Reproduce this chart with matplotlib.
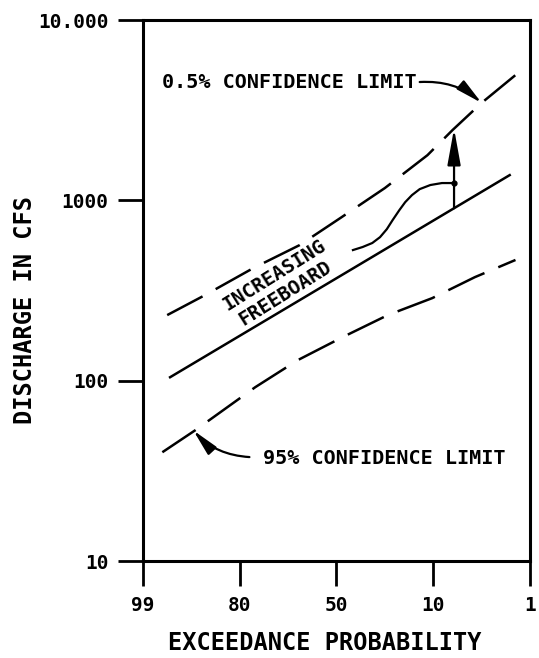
import numpy as np
import matplotlib
matplotlib.use("Agg")
import matplotlib.pyplot as plt

# Tick categories (exceedance probability, equally spaced on the sheet)
prob_labels = ['99', '80', '50', '10', '1']
prob_pos = [0, 1, 2, 3, 4]
q_ticks = [10, 100, 1000, 10000]
q_labels = ['10', '100', '1000', '10.000']

# 0.5% confidence limit (upper, dashed)
up_x = [0.25, 0.64, 1.14, 1.62, 2.04, 2.50, 2.94, 3.20, 3.50, 3.85]
up_q = [231, 298, 421, 565, 798, 1170, 1780, 2455, 3470, 4950]

# frequency curve (solid)
mid_x = [0.28, 2.14, 3.79]
mid_q = [104.5, 410, 1380]

# 95% confidence limit (lower, dashed)
lo_x = [0.20, 0.54, 1.16, 1.60, 2.06, 2.53, 2.99, 3.43, 3.85]
lo_q = [40.1, 53.1, 92, 130, 174, 231, 287, 375, 467]

# wavy line leading to the freeboard arrow
wave_x = [2.17, 2.27, 2.37, 2.45, 2.52, 2.58, 2.65, 2.71, 2.78, 2.86,
          2.97, 3.09, 3.215]
wave_q = [530, 551, 580, 625, 692, 777, 883, 977, 1069, 1154,
          1216, 1247, 1247]
arrow_x = 3.215

font = 'DejaVu Sans Mono'
wt = 'bold'

fig = plt.figure(figsize=(5.39, 6.58), dpi=100)
ax = fig.add_axes([0.2653, 0.1474, 0.718, 0.8222])
ax.set_yscale('log')
ax.set_xlim(0, 4)
ax.set_ylim(10, 10000)

dash = (0, (16, 6))
ax.plot(up_x, up_q, color='black', lw=1.8, ls=dash)
ax.plot(mid_x, mid_q, color='black', lw=1.8)
ax.plot(lo_x, lo_q, color='black', lw=1.8, ls=dash)
ax.plot(wave_x, wave_q, color='black', lw=1.6, solid_joinstyle='round')
ax.plot([wave_x[-1]], [wave_q[-1]], 'o', color='black', ms=3.5)

# freeboard arrow from frequency curve up to the upper limit
base = 10 ** np.interp(arrow_x, mid_x, np.log10(mid_q))
tip = 10 ** np.interp(arrow_x, up_x, np.log10(up_q))
ax.annotate('', xy=(arrow_x, tip), xytext=(arrow_x, base),
            arrowprops=dict(arrowstyle='-|>,head_length=1.1,head_width=0.2',
                            color='black', lw=1.6, shrinkA=0, shrinkB=0,
                            mutation_scale=20))

# labels with curved arrows
ax.text(0.196, 4530, '0.5% CONFIDENCE LIMIT', family=font, fontsize=14.5,
        weight=wt, ha='left', va='center')
ax.annotate('', xy=(3.50, 3470), xytext=(2.86, 4530),
            arrowprops=dict(arrowstyle='-|>,head_length=0.8,head_width=0.17',
                            color='black', lw=1.6, shrinkA=0, shrinkB=0,
                            mutation_scale=20,
                            connectionstyle='arc3,rad=-0.2'))
ax.text(1.24, 37.2, '95% CONFIDENCE LIMIT', family=font, fontsize=14.5,
        weight=wt, ha='left', va='center')
ax.annotate('', xy=(0.52, 53), xytext=(1.10, 37.7),
            arrowprops=dict(arrowstyle='-|>,head_length=0.8,head_width=0.17',
                            color='black', lw=1.6, shrinkA=0, shrinkB=0,
                            mutation_scale=20,
                            connectionstyle='arc3,rad=-0.2'))
ax.text(1.354, 385, 'INCREASING', family=font, fontsize=14, rotation=32,
        weight=wt, ha='center', va='center', rotation_mode='anchor')
ax.text(1.468, 306, 'FREEBOARD', family=font, fontsize=14, rotation=32,
        weight=wt, ha='center', va='center', rotation_mode='anchor')

# axes styling
ax.set_xticks(prob_pos)
ax.set_xticklabels(prob_labels, family=font, fontsize=14, weight=wt)
ax.set_yticks(q_ticks)
ax.set_yticklabels(q_labels, family=font, fontsize=14, weight=wt)
ax.yaxis.set_minor_locator(matplotlib.ticker.NullLocator())
ax.tick_params(direction='out', length=18, width=2, pad=7, colors='black')
for s in ax.spines.values():
    s.set_linewidth(2.2)

ax.text(-0.305, 0.464, 'DISCHARGE IN CFS', transform=ax.transAxes,
        family=font, fontsize=17, weight=wt, rotation=90,
        ha='center', va='center')
ax.text(0.47, -0.152, 'EXCEEDANCE PROBABILITY', transform=ax.transAxes,
        family=font, fontsize=17, weight=wt, ha='center', va='center')

fig.savefig('out.png', dpi=100)
